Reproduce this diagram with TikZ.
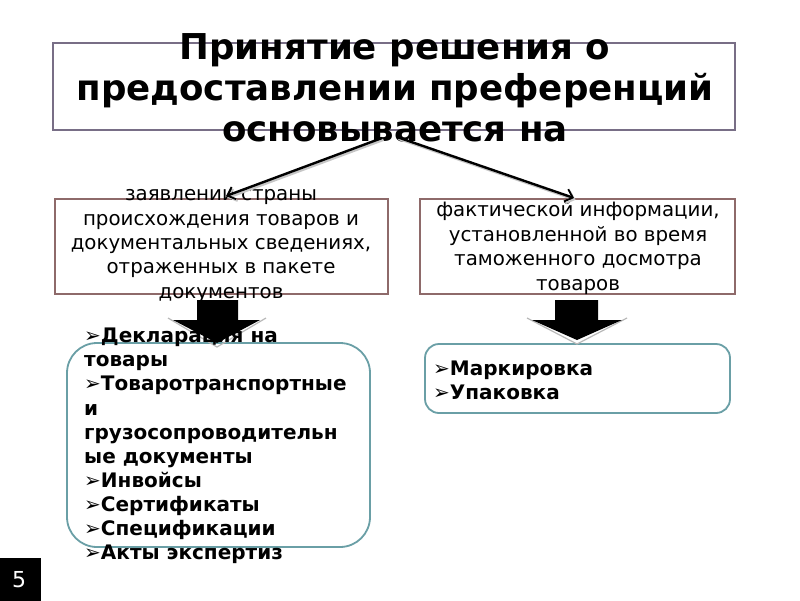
\documentclass[tikz,border=0pt]{standalone}
\usepackage{fontspec}
\setmainfont{DejaVu Sans}
\usetikzlibrary{arrows.meta,calc}
\definecolor{titleframe}{HTML}{786E86}
\definecolor{boxframe}{HTML}{8E6A6A}
\definecolor{listframe}{HTML}{6A9FA6}
\begin{document}
\begin{tikzpicture}[x=1pt,y=-1pt,
  titlebox/.style={draw=titleframe, line width=1.8pt, rectangle, inner sep=0pt},
  infobox/.style={draw=boxframe, line width=1.8pt, rectangle, inner sep=0pt},
  listbox/.style={draw=listframe, line width=1.8pt, rectangle, inner sep=0pt},
  titletext/.style={font=\bfseries\fontsize{35.6}{41}\selectfont, align=center, inner sep=0pt},
  infotext/.style={font=\fontsize{19.8}{24.4}\selectfont, align=center, inner sep=0pt},
  listtext/.style={font=\bfseries\fontsize{20}{24.1}\selectfont, align=left, inner sep=0pt, anchor=west},
  conn/.style={line width=2.4pt, -{Straight Barb[length=7pt,width=13pt,line width=1.8pt]}},
  connshadow/.style={line width=2.4pt, draw=gray!45, -{Straight Barb[length=7pt,width=13pt,line width=1.8pt]}},
  blockarrow/.style={fill=black, draw=none},
  blockshadow/.style={draw=gray!55, line width=1.2pt}
]
\useasboundingbox (0,0) rectangle (800,600);
\fill[white] (0,0) rectangle (800,600);

% title
\node[titlebox, minimum width=682, minimum height=87] (tbox) at (394,86.5) {};
\node[titletext] (ttl) at (395,88) {Принятие решения о\\предоставлении преференций\\основывается на};

% info boxes
\node[infobox, minimum width=333, minimum height=95] (lbox) at (221.5,246.5) {};
\node[infobox, minimum width=315, minimum height=95] (rbox) at (577.5,246.5) {};
\node[infotext] (ltxt) at (221,246) {заявлении страны\\происхождения товаров и\\документальных сведениях,\\отраженных в пакете\\документов};
\node[infotext] (rtxt) at (578,248) {фактической информации,\\установленной во время\\таможенного досмотра\\товаров};

% connectors
\coordinate (s1) at (382,138);
\coordinate (s2) at (397,137);
\coordinate (e1) at (226,196);
\coordinate (e2) at (574,198);
\draw[connshadow] ($(s1)+(1.5,1.8)$) -- ($(e1)+(1.5,1.8)$);
\draw[connshadow] ($(s2)+(1.5,1.8)$) -- ($(e2)+(1.5,1.8)$);
\draw[conn] (s1) -- (e1);
\draw[conn] (s2) -- (e2);

% list boxes
\draw[listbox, rounded corners=30pt] (67,343) rectangle (370,547);
\node[minimum width=303, minimum height=204, inner sep=0pt] (llist) at (218.5,445) {};
\draw[listbox, rounded corners=14pt] (425,344) rectangle (730,413);
\node[minimum width=305, minimum height=69, inner sep=0pt] (rlist) at (577.5,378.5) {};

% block arrows
\draw[blockshadow] (168,318) -- (217,347) -- (266,318);
\fill[blockarrow] (197,300) -- (238,300) -- (238,320) -- (260,320) -- (217,343) -- (173,320) -- (197,320) -- cycle;
\draw[blockshadow] (527,318) -- (577,344) -- (627,318);
\fill[blockarrow] (555,300) -- (598,300) -- (598,320) -- (622,320) -- (577,340) -- (532,320) -- (555,320) -- cycle;

% list texts
\node[listtext] (ltext) at (84,446) {➢Декларация на\\товары\\➢Товаротранспортные\\и\\грузосопроводительн\\ые документы\\➢Инвойсы\\➢Сертификаты\\➢Спецификации\\➢Акты экспертиз};
\node[listtext] (rtext) at (433,380) {➢Маркировка\\➢Упаковка};

% slide number
\node[fill=black, minimum width=41, minimum height=43, inner sep=0pt] (numbox) at (20.5,579.5) {};
\node[text=white, font=\fontsize{22}{24}\selectfont] (num) at (19,580) {5};
\end{tikzpicture}
\end{document}
